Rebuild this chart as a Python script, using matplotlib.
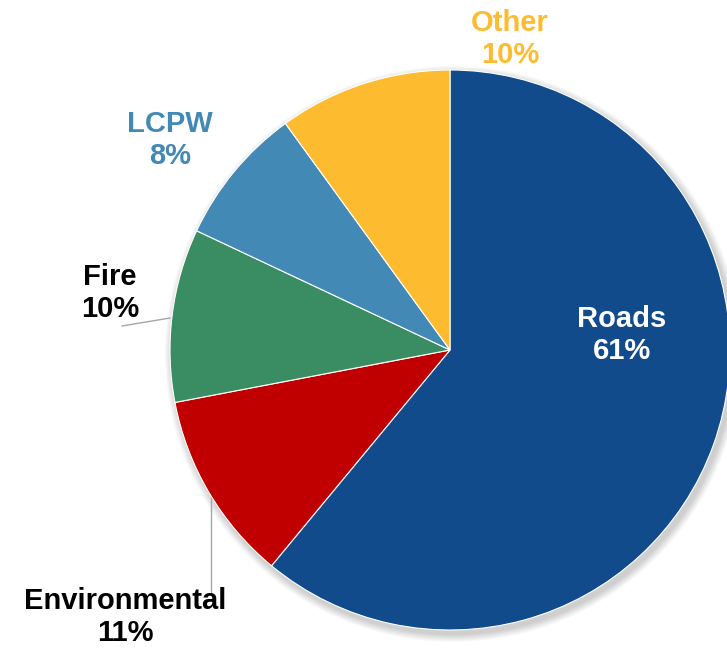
import matplotlib.pyplot as plt
from matplotlib.patches import Circle

plt.rcParams['font.family'] = ['Liberation Sans', 'DejaVu Sans']

categories = ['Roads', 'Environmental', 'Fire', 'LCPW', 'Other']
shares = [61, 11, 10, 8, 10]
colors = ['#124B8C', '#C00000', '#3A8C62', '#4389B5', '#FDBB30']

W, H = 727, 649
fig = plt.figure(figsize=(W / 100, H / 100), dpi=100)
ax = fig.add_axes([0, 0, 1, 1])

cx, cy, r = 450, H - 350, 280

# soft shadow behind the pie
for i in range(8):
    ax.add_patch(Circle((cx + 3, cy - 4), r + 8 - i, color='black',
                        alpha=0.025, lw=0, zorder=0))

ax.pie(shares, colors=colors, startangle=90, counterclock=False,
       center=(cx, cy), radius=r, frame=True,
       wedgeprops=dict(edgecolor='white', linewidth=0.8, zorder=2))
ax.set_xlim(0, W)
ax.set_ylim(0, H)
ax.set_aspect('equal')
ax.axis('off')

# label positions in pixel coords (x, y from top), text colour
label_pos = {
    'Roads': (622, 335, 'white'),
    'Environmental': (125, 617, 'black'),
    'Fire': (110, 293, 'black'),
    'LCPW': (170, 140, '#4389B5'),
    'Other': (510, 39, '#FDBB30'),
}
for name, val in zip(categories, shares):
    x, y, c = label_pos[name]
    ax.text(x, H - y, f'{name}\n{val}%', ha='center', va='center',
            fontsize=21, fontweight='bold', color=c, linespacing=1.15,
            zorder=5)

# leader lines
ax.plot([122, 170], [H - 326, H - 318], color='#A6A6A6', lw=1, zorder=1)
ax.plot([211, 211], [H - 494, H - 592], color='#A6A6A6', lw=1, zorder=1)

fig.savefig('out.png', dpi=100)
